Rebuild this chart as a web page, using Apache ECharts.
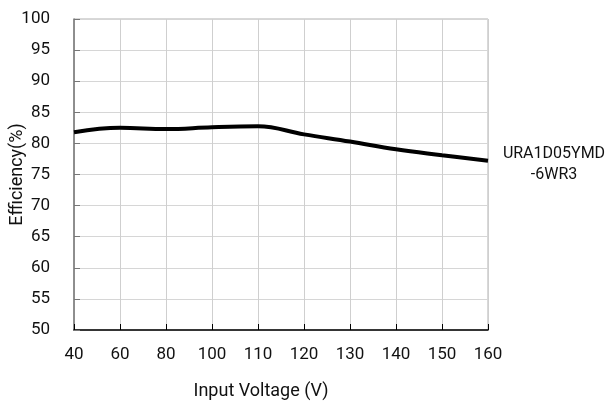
<!DOCTYPE html>
<html>
<head>
<meta charset="utf-8">
<script src="https://cdn.jsdelivr.net/npm/echarts@6/dist/echarts.min.js"></script>
<style>
  html, body { margin: 0; padding: 0; background: #fff; }
  #chart { width: 611px; height: 401px; }
</style>
</head>
<body>
<div id="chart"></div>
<script>
// 输入电压刻度（等间距）
const voltages = ['40', '60', '80', '100', '110', '120', '130', '140', '150', '160'];
// 效率曲线
const efficiency = [81.8, 82.5, 82.3, 82.6, 82.75, 81.45, 80.3, 79.05, 78.1, 77.2];
const seriesName = 'URA1D05YMD\n-6WR3';

const FONT = 'Roboto';
const chart = echarts.init(document.getElementById('chart'));

const option = {
  animation: false,
  grid: {
    left: 74, right: 123, top: 19, bottom: 71,
    containLabel: false,
    outerBoundsMode: 'none',
    show: true,
    borderColor: '#b0b0b0',
    borderWidth: 1
  },
  xAxis: {
    type: 'category',
    data: voltages,
    boundaryGap: false,
    name: 'Input Voltage (V)',
    nameLocation: 'middle',
    nameGap: 52,
    nameMoveOverlap: false,
    nameTextStyle: { color: '#111', fontSize: 18, fontFamily: FONT, padding: [0, 40, 0, 0] },
    axisLine: { lineStyle: { color: '#000', width: 1.5 } },
    axisTick: { inside: true, length: 6, lineStyle: { color: '#000' } },
    axisLabel: { color: '#111', fontSize: 17, fontFamily: FONT, margin: 16 },
    splitLine: { show: true, lineStyle: { color: '#cfcfcf', width: 1 } }
  },
  yAxis: {
    type: 'value',
    min: 50,
    max: 100,
    interval: 5,
    name: 'Efficiency(%)',
    nameLocation: 'middle',
    nameGap: 48,
    nameMoveOverlap: false,
    nameTextStyle: { color: '#111', fontSize: 18, fontFamily: FONT },
    axisLine: { show: true, lineStyle: { color: '#777', width: 1.5 } },
    axisTick: { show: true, inside: true, length: 6, lineStyle: { color: '#777' } },
    axisLabel: { color: '#111', fontSize: 17, fontFamily: FONT, margin: 24 },
    splitLine: { show: true, lineStyle: { color: '#d6d6d6', width: 1 } }
  },
  series: [{
    name: seriesName,
    type: 'line',
    data: efficiency,
    smooth: 0.4,
    showSymbol: false,
    lineStyle: { color: '#000', width: 4 },
    endLabel: {
      show: true,
      formatter: '{a}',
      position: 'right',
      distance: 0,
      align: 'center',
      offset: [66, 4],
      color: '#111',
      fontSize: 16,
      lineHeight: 21,
      fontFamily: FONT
    }
  }]
};

chart.setOption(option);
</script>
</body>
</html>
